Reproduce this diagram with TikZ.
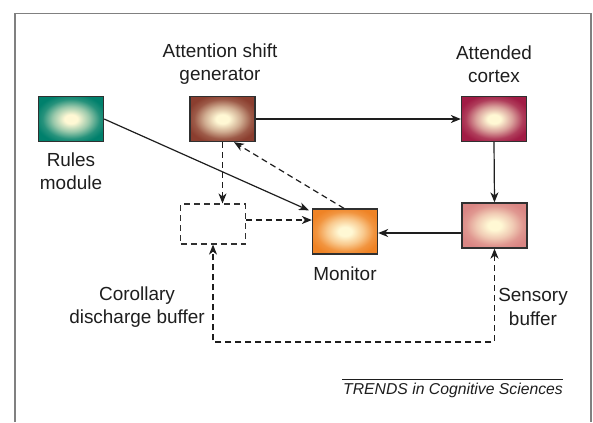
\documentclass[tikz,border=0pt]{standalone}
\usepackage{fontspec}
\setmainfont{Liberation Sans}
\usetikzlibrary{arrows.meta}
\definecolor{creamc}{HTML}{FFF8D4}
\definecolor{tealc}{HTML}{00806C}
\definecolor{brownc}{HTML}{8B3E2F}
\definecolor{crimsonc}{HTML}{A11C45}
\definecolor{pinkc}{HTML}{DA8684}
\definecolor{orangec}{HTML}{EF8325}
\definecolor{edgec}{HTML}{303030}
\definecolor{framec}{HTML}{808080}
\definecolor{textc}{HTML}{1E1E1E}
\newcommand{\mkglow}[2]{\pgfdeclareradialshading{#1}{\pgfpoint{0bp}{0bp}}{color(0bp)=(creamc); color(5bp)=(creamc); color(14bp)=(creamc!60!#2); color(22bp)=(creamc!15!#2); color(28bp)=(#2); color(50bp)=(#2)}}
\mkglow{glowteal}{tealc}
\mkglow{glowbrown}{brownc}
\mkglow{glowcrimson}{crimsonc}
\mkglow{glowpink}{pinkc}
\mkglow{gloworange}{orangec}
\tikzset{
  modbox/.style={rectangle, minimum width=65bp, minimum height=45bp, inner sep=0pt, draw=edgec, line width=1.3bp},
  dbox/.style={rectangle, minimum width=64.5bp, minimum height=40bp, inner sep=0pt, draw=edgec, line width=1.2bp, dash pattern=on 6bp off 4bp},
  lbl/.style={align=center, text=textc, font=\fontsize{19}{23.5}\selectfont, inner sep=0pt},
  conn/.style={draw=textc, line width=1.2bp, -{Stealth[length=10bp, width=8bp, inset=3bp]}},
  dconn/.style={conn, dash pattern=on 6bp off 4bp},
}
\begin{document}
\begin{tikzpicture}[x=1bp, y=-1bp]
\useasboundingbox (0,0) rectangle (593,422);
\fill[white] (0,0) rectangle (593,422);
% frame
\draw[framec, line width=1.3bp] (15,422) -- (15,13.3) -- (591,13.3) -- (591,422);
% boxes
\node[modbox, shading=glowteal] (rules) at (71,119) {};
\node[modbox, shading=glowbrown] (gen) at (222.5,119) {};
\node[modbox, shading=glowcrimson] (cortex) at (494,119) {};
\node[modbox, shading=glowpink] (sensory) at (494.5,225.5) {};
\node[modbox, shading=gloworange] (monitor) at (345,231.5) {};
\node[dbox] (cdb) at (213,224) {};
% labels
\node[lbl] (lgen) at (220,64) {Attention shift\\generator};
\node[lbl] (lcortex) at (494,64) {Attended\\cortex};
\node[lbl] (lrules) at (71,171.5) {Rules\\module};
\node[lbl] (lmon) at (345,273.5) {Monitor};
\node[lbl] (lcdb) at (137,307) {Corollary\\discharge buffer};
\node[lbl] (lsens) at (533,307) {Sensory\\buffer};
\node[text=textc, font=\fontsize{15.8}{18}\selectfont\itshape, inner sep=0pt, anchor=east] (trends) at (563,390) {TRENDS in Cognitive Sciences};
\coordinate (tl) at (342,379);
\coordinate (tr) at (563,379);
\draw[textc, line width=0.9bp] (tl) -- (tr);
% connectors
\draw[conn] (rules.east) -- ([xshift=-3bp,yshift=-2bp]monitor.north west);
\draw[conn] (gen.east) -- (cortex.west);
\draw[conn] (cortex.south) -- (sensory.north);
\draw[conn] ([yshift=-7.5bp]sensory.west) -- ([yshift=-7.5bp]sensory.west -| monitor.east);
\draw[dconn] ([xshift=-1bp]monitor.north) -- ([xshift=11.5bp]gen.south);
\draw[dconn] (gen.south) -- (gen.south |- cdb.north);
\draw[dconn] ([yshift=4bp]cdb.east) -- ([yshift=4bp]cdb.east -| monitor.west);
\coordinate (br) at (494.5,342);
\coordinate (bl) at (213,342);
\draw[dconn, {Stealth[length=10bp, width=8bp, inset=3bp]}-{Stealth[length=10bp, width=8bp, inset=3bp]}] (sensory.south) -- (br) -- (bl) -- (cdb.south);
\end{tikzpicture}
\end{document}
